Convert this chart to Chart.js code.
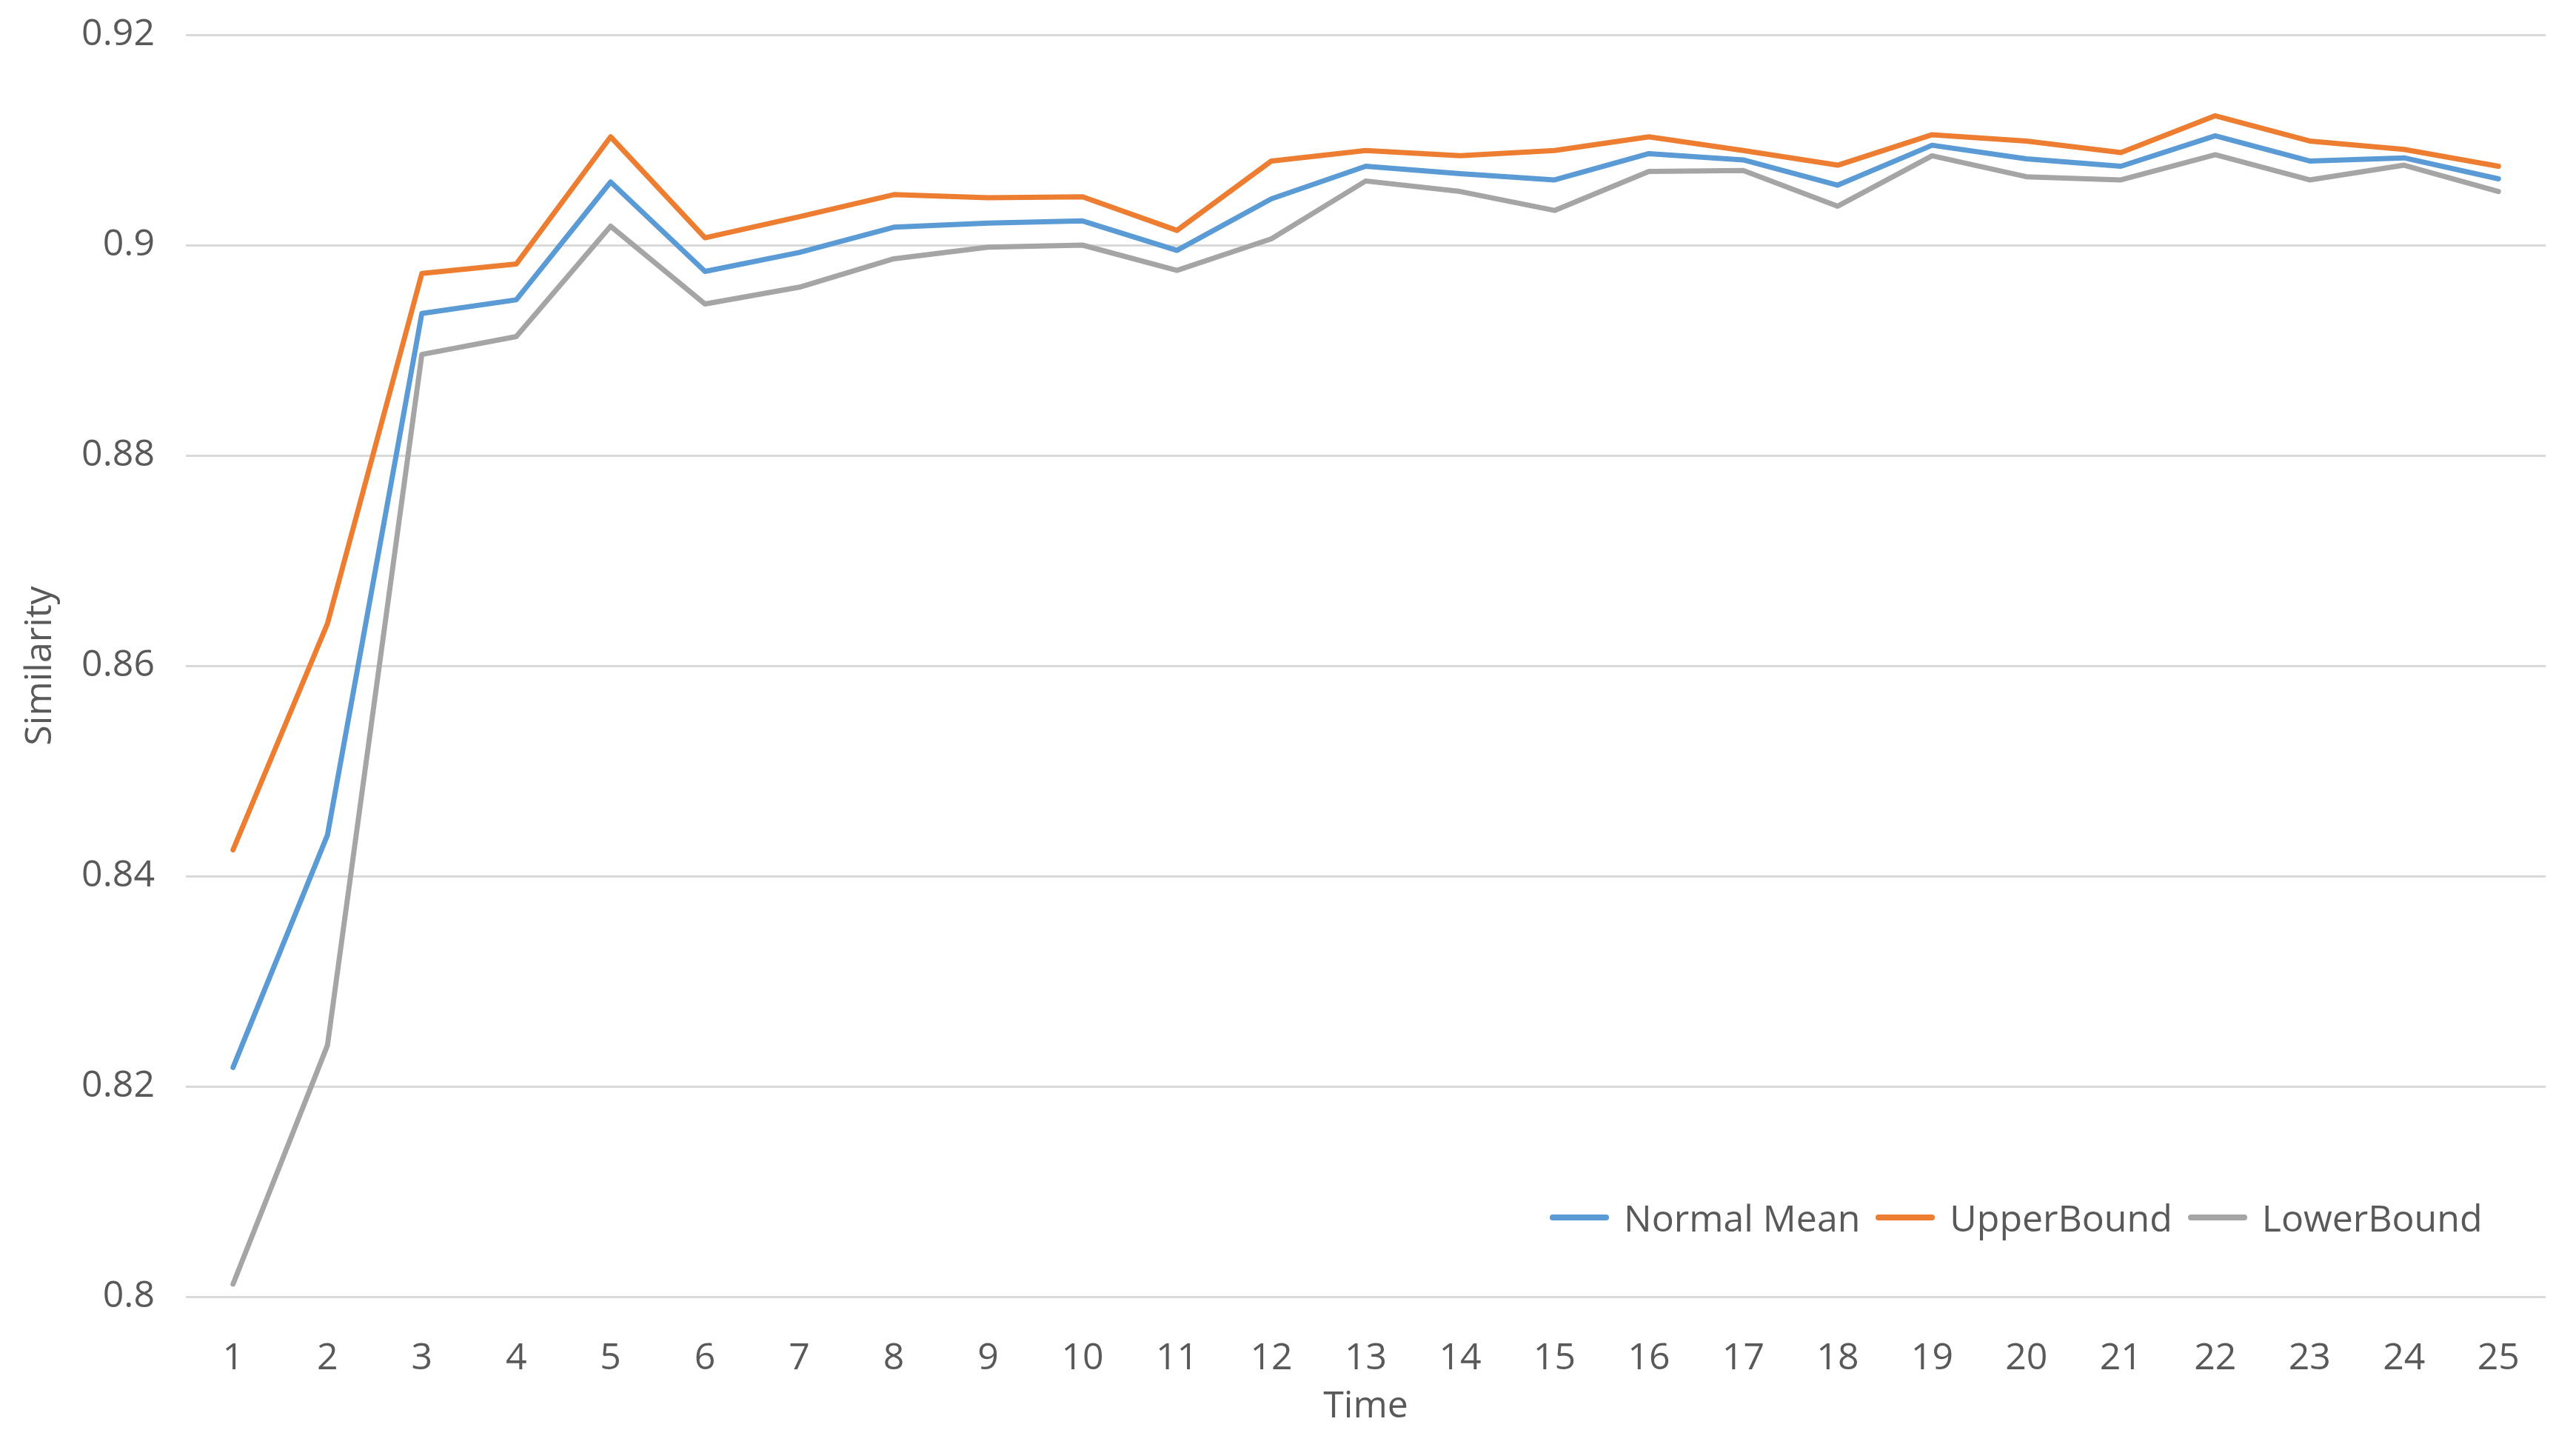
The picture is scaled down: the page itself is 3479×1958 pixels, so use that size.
<!doctype html>
<html>
<head>
    <title>Similarity over Time</title>
    <script src="https://cdn.jsdelivr.net/npm/chart.js"></script>
    <style>
        body { margin: 0; background: #ffffff; }
        #wrap { position: relative; width: 3479px; height: 1958px; }
        #legenda {
            position: absolute; left: 2093px; top: 1612px;
            display: flex; align-items: center; height: 64px;
            font-family: 'Open Sans'; font-size: 50px; color: #595959; white-space: nowrap;
        }
        #legenda .linha { width: 80px; height: 8px; border-radius: 4px; margin-right: 20px; }
        #legenda .item { display: flex; align-items: center; margin-right: 21px; }
    </style>
</head>
<body>
    <div id="wrap">
        <canvas id="grafico" width="3479" height="1958"></canvas>
        <div id="legenda"></div>
    </div>

    <script>
        // Dados
        var tempos = ['1','2','3','4','5','6','7','8','9','10','11','12','13','14','15','16','17','18','19','20','21','22','23','24','25'];
        var normalMean = [0.8218, 0.8439, 0.8935, 0.8948, 0.9060, 0.8975, 0.8993, 0.9017, 0.9021, 0.9023, 0.8995, 0.9044, 0.9075,
                          0.9068, 0.9062, 0.9087, 0.9081, 0.9057, 0.9095, 0.9082, 0.9075, 0.9104, 0.9080, 0.9083, 0.9063];
        var upperBound = [0.8425, 0.8640, 0.8973, 0.8982, 0.9103, 0.9007, 0.9027, 0.9048, 0.9045, 0.9046, 0.9014, 0.9080, 0.9090,
                          0.9085, 0.9090, 0.9103, 0.9090, 0.9076, 0.9105, 0.9099, 0.9088, 0.9123, 0.9099, 0.9091, 0.9075];
        var lowerBound = [0.8012, 0.8239, 0.8896, 0.8913, 0.9018, 0.8944, 0.8960, 0.8987, 0.8998, 0.9000, 0.8976, 0.9006, 0.9061,
                          0.9051, 0.9033, 0.9070, 0.9071, 0.9037, 0.9085, 0.9065, 0.9062, 0.9086, 0.9062, 0.9076, 0.9051];

        Chart.defaults.font.family = "'Open Sans'";
        Chart.defaults.font.size = 50;
        Chart.defaults.color = '#595959';

        function serie(nome, valores, cor) {
            return {
                label: nome,
                data: valores,
                borderColor: cor,
                backgroundColor: cor,
                borderWidth: 7,
                pointRadius: 0,
                tension: 0,
                borderJoinStyle: 'round',
                borderCapStyle: 'round'
            };
        }

        var grafico = new Chart(document.getElementById('grafico').getContext('2d'), {
            type: 'line',
            data: {
                labels: tempos,
                datasets: [
                    serie('Normal Mean', normalMean, '#5B9BD5'),
                    serie('UpperBound', upperBound, '#ED7D31'),
                    serie('LowerBound', lowerBound, '#A5A5A5')
                ]
            },
            options: {
                responsive: false,
                animation: false,
                devicePixelRatio: 1,
                layout: { padding: { top: 47, right: 41, left: 0, bottom: 0 } },
                plugins: {
                    legend: { display: false },
                    tooltip: { enabled: false }
                },
                scales: {
                    x: {
                        offset: true,
                        grid: { display: false },
                        border: { display: false },
                        ticks: { padding: 46, maxRotation: 0, autoSkip: false },
                        title: { display: true, text: 'Time', padding: { top: 0, bottom: 28 } },
                        afterFit: function (escala) {
                            escala.height = 207;
                            escala.paddingLeft = 0;
                            escala.paddingRight = 0;
                        }
                    },
                    y: {
                        min: 0.8,
                        max: 0.92,
                        border: { display: false },
                        grid: { color: '#D9D9D9', lineWidth: 3, drawTicks: false },
                        ticks: {
                            stepSize: 0.02,
                            padding: 42,
                            callback: function (v) { return parseFloat(v.toFixed(2)).toString(); }
                        },
                        title: { display: true, text: 'Similarity', padding: { top: 25, bottom: 0 } },
                        afterFit: function (escala) {
                            escala.width = 251;
                            escala.paddingTop = 0;
                            escala.paddingBottom = 0;
                        }
                    }
                }
            }
        });

        // Legenda dentro da área do gráfico, canto inferior direito
        var legenda = document.getElementById('legenda');
        grafico.data.datasets.forEach(function (ds) {
            var item = document.createElement('div');
            item.className = 'item';
            var linha = document.createElement('div');
            linha.className = 'linha';
            linha.style.background = ds.borderColor;
            var texto = document.createElement('span');
            texto.textContent = ds.label;
            item.appendChild(linha);
            item.appendChild(texto);
            legenda.appendChild(item);
        });
    </script>
</body>
</html>
